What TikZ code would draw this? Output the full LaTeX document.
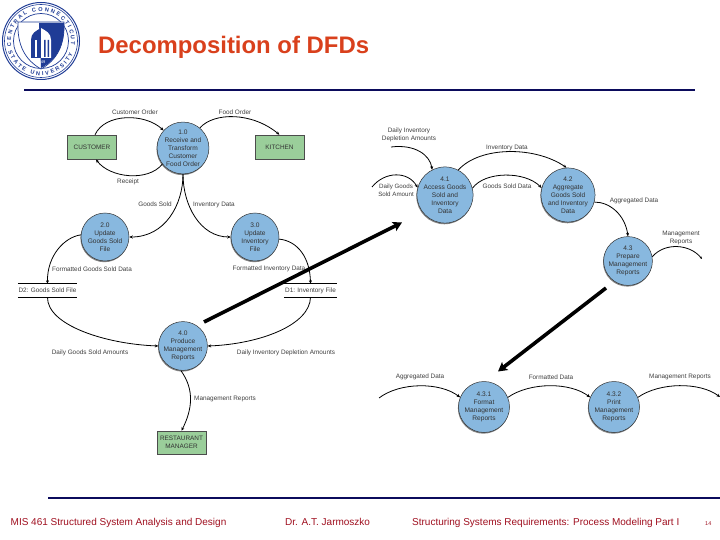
\documentclass[tikz,border=0pt]{standalone}
\usepackage{fontspec}
\setmainfont{Liberation Sans}
\usetikzlibrary{arrows.meta,shadows,decorations.text}
\definecolor{procblue}{HTML}{88B8DF}
\definecolor{boxgreen}{HTML}{9ACE9A}
\definecolor{navyline}{HTML}{0B0B5C}
\definecolor{titlered}{HTML}{D9401C}
\definecolor{footred}{HTML}{A01020}
\definecolor{sealblue}{HTML}{1F3C96}
\tikzset{
  proc/.style={circle,fill=procblue,draw=black!80,line width=.5pt,minimum size=48pt,inner sep=0pt,align=center,
    font=\fontsize{6.6}{8}\selectfont,text=black!80,drop shadow={shadow xshift=-.6pt,shadow yshift=-1.2pt,opacity=.6,fill=black!80}},
  bigproc/.style={proc,minimum size=51pt},
  ent/.style={rectangle,fill=boxgreen,draw=black!70,line width=.5pt,minimum width=49pt,minimum height=24pt,inner sep=0pt,align=center,
    font=\fontsize{6.4}{8}\selectfont,text=black!80,drop shadow={shadow xshift=.6pt,shadow yshift=-.8pt,opacity=.5,fill=black!70}},
  lab/.style={font=\fontsize{6.4}{8}\selectfont,text=black!75,align=center,inner sep=0pt},
  flow/.style={line width=.8pt,black,-{Stealth[length=3.5pt,width=3pt]}},
  flowplain/.style={line width=.8pt,black},
  storeline/.style={line width=.9pt,black},
  bigarrow/.style={line width=3.6pt,black,-{Stealth[length=9pt,width=10pt,inset=2pt]}},
  rule/.style={line width=1.7pt,navyline},
  foot/.style={font=\fontsize{10}{12}\selectfont,text=footred,anchor=base west,inner sep=0pt},
  sealtext/.style={decorate,decoration={text along path,text align=fit to path,text={|\bfseries\fontsize{5.6}{7}\selectfont\color{sealblue}|#1}}},
}
\begin{document}
\begin{tikzpicture}[x=1pt,y=-1pt]
\useasboundingbox (0,0) rectangle (720,540);
\fill[white] (0,0) rectangle (720,540);

% Seal
\draw[sealblue,line width=1pt] (41,41) circle (38.5);
\draw[sealblue,line width=.6pt] (41,41) circle (36.5);
\draw[sealblue,line width=.7pt] (41,41) circle (27.5);
\begin{scope}[shift={(41,41)},x=1pt,y=1pt]
  \path[sealtext={CENTRAL  CONNECTICUT}] (190:30) arc[start angle=190,end angle=-8,radius=30];
  \path[sealtext={STATE  UNIVERSITY}] (198:34.4) arc[start angle=198,end angle=338,radius=34.4];
\end{scope}
\fill[white] (18,22) -- (64,22) .. controls (65,45) and (57,60) .. (41,69) .. controls (25,60) and (17,45) .. (18,22) -- cycle;
\fill[sealblue] (39,23) -- (64,23) .. controls (65,45) and (57,60) .. (41,68) -- cycle;
\draw[sealblue,line width=.7pt] (18,22) -- (64,22) .. controls (65,45) and (57,60) .. (41,69) .. controls (25,60) and (17,45) .. (18,22) -- cycle;
\fill[sealblue] (31,58) -- (31,40) .. controls (31,33) and (36,31) .. (41,28) -- (41,58) -- cycle;
\fill[white] (41,58) -- (41,28) .. controls (46,31) and (51,33) .. (51,40) -- (51,58) -- cycle;
\fill[sealblue] (44,40) rectangle (45.5,57) (47.5,40) rectangle (49,57);
\fill[white] (35,40) rectangle (36.5,57);
\node[font=\fontsize{4}{5}\selectfont,text=white,inner sep=0pt] at (41,62) {1849};

% Title and rules
\node[font=\bfseries\fontsize{23.9}{26}\selectfont,text=titlered,anchor=base west,inner sep=0pt] (title) at (98,54) {Decomposition of DFDs};
\coordinate (topl) at (24,90); \coordinate (topr) at (695,90);
\draw[rule] (topl) -- (topr);
\coordinate (botl) at (48,498); \coordinate (botr) at (720,498);
\draw[rule] (botl) -- (botr);

% Footer
\node[foot] (f1) at (10.5,525.5) {MIS 461 Structured System Analysis and Design};
\node[foot] (f2) at (285,525.5) {Dr. A.T. Jarmoszko};
\node[foot] (f3) at (412,525.5) {Structuring Systems Requirements: Process Modeling Part I};
\node[foot,font=\fontsize{5.5}{6}\selectfont] (f4) at (705,525.5) {14};

% Left DFD: nodes
\node[ent] (cust) at (92,147) {CUSTOMER};
\node[ent] (kit) at (279.5,147) {KITCHEN};
\node[ent,minimum height=23pt] (mgr) at (181.5,442.5) {RESTAURANT\\MANAGER};
\node[proc] (p1) at (183,148) {1.0\\Receive and\\Transform\\Customer\\Food Order};
\node[proc] (p2) at (105,237) {2.0\\Update\\Goods Sold\\File};
\node[proc] (p3) at (255,237) {3.0\\Update\\Inventory\\File};
\node[proc] (p4) at (183,346) {4.0\\Produce\\Management\\Reports};

% Data stores
\node[lab,minimum width=59pt,minimum height=13pt] (d2) at (47.5,290.5) {D2: Goods Sold File};
\node[lab,minimum width=53pt,minimum height=13pt] (d1) at (310.5,290.5) {D1: Inventory File};
\draw[storeline] (d2.north west) -- (d2.north east);
\draw[storeline] (d2.south west) -- (d2.south east);
\draw[storeline] (d1.north west) -- (d1.north east);
\draw[storeline] (d1.south west) -- (d1.south east);

% Left DFD: connectors
\draw[flow] (cust.north) ++(3,0) coordinate (c1) .. controls (105,113) and (145,113) .. (p1.138);
\draw[flow] (p1.218) .. controls (148,182) and (110,178) .. (96,159.5);
\draw[flow] (p1.50) .. controls (214,112) and (252,112) .. (kit.north) ;
\draw[flow] (p1.south) .. controls (183,205) and (165,237) .. (p2.east);
\draw[flow] (p1.south) .. controls (183,205) and (200,237) .. (p3.west);
\draw[flow] (p2.175) .. controls (65,237) and (47,255) .. (d2.north);
\draw[flow] (p3.-5) .. controls (298,241) and (310,258) .. (d1.north);
\draw[flow] (d2.south) .. controls (47,325) and (105,344) .. (p4.west);
\draw[flow] (d1.south) .. controls (310,325) and (260,344) .. (p4.east);
\draw[flow] (p4.-95) .. controls (195,390) and (192,410) .. (mgr.north);

% Left DFD: labels
\node[lab] (l1) at (135,112) {Customer Order};
\node[lab] (l2) at (235,112) {Food Order};
\node[lab] (l3) at (128,182) {Receipt};
\node[lab] (l4) at (155,204.5) {Goods Sold};
\node[lab] (l5) at (214,204.5) {Inventory Data};
\node[lab] (l6) at (92,269) {Formatted Goods Sold Data};
\node[lab] (l7) at (269,269) {Formatted Inventory Data};
\node[lab] (l8) at (90,352.5) {Daily Goods Sold Amounts};
\node[lab] (l9) at (286,352.5) {Daily Inventory Depletion Amounts};
\node[lab] (l10) at (225,398.5) {Management Reports};

% Right DFD, upper
\node[proc] (q1) at (445,195) {4.1\\Access Goods\\Sold and\\Inventory\\Data};
\node[proc] (q2) at (568,195) {4.2\\Aggregate\\Goods Sold\\and Inventory\\Data};
\node[proc] (q3) at (628,261) {4.3\\Prepare\\Management\\Reports};
\coordinate (a1) at (391,147);
\coordinate (a2) at (372,187);
\coordinate (a3) at (702,259);
\draw[flow] (a1) .. controls (415,144) and (430,155) .. (q1.117);
\draw[flow] (a2) .. controls (385,171) and (408,171) .. (q1.165);
\draw[flow] (q1.62) .. controls (480,146) and (535,146) .. (q2.93);
\draw[flow] (q1.14) .. controls (485,171) and (525,171) .. (q2.165);
\draw[flow] (q2.-15) .. controls (610,202) and (625,215) .. (q3.north);
\draw[flowplain,-{Stealth[length=2.5pt,width=2pt]}] (q3.10) .. controls (665,242) and (690,244) .. (a3);
\node[lab] (r1) at (409,135) {Daily Inventory\\Depletion Amounts};
\node[lab] (r2) at (507,147.5) {Inventory Data};
\node[lab,font=\fontsize{6.2}{8}\selectfont] (r3) at (396,190) {Daily Goods\\Sold Amount};
\node[lab] (r4) at (507,186) {Goods Sold Data};
\node[lab] (r5) at (634,201) {Aggregated Data};
\node[lab] (r6) at (681,238) {Management\\Reports};

% Right DFD, lower
\node[bigproc] (s1) at (484,407) {4.3.1\\Format\\Management\\Reports};
\node[bigproc] (s2) at (614,407) {4.3.2\\Print\\Management\\Reports};
\coordinate (b1) at (379,398);
\coordinate (b2) at (720,397);
\draw[flow] (b1) .. controls (400,382) and (440,382) .. (s1.158);
\draw[flow] (s1.22) .. controls (530,382) and (570,382) .. (s2.158);
\draw[flow] (s2.22) .. controls (660,382) and (700,382) .. (b2);
\node[lab] (t1) at (420,377) {Aggregated Data};
\node[lab] (t2) at (551,377) {Formatted Data};
\node[lab] (t3) at (680,377) {Management Reports};

% Thick arrows
\coordinate (u1) at (204,322); \coordinate (u2) at (402,222.5);
\coordinate (v1) at (606,288); \coordinate (v2) at (498,371.5);
\draw[bigarrow] (u1) -- (u2);
\draw[bigarrow] (v1) -- (v2);
\end{tikzpicture}
\end{document}
